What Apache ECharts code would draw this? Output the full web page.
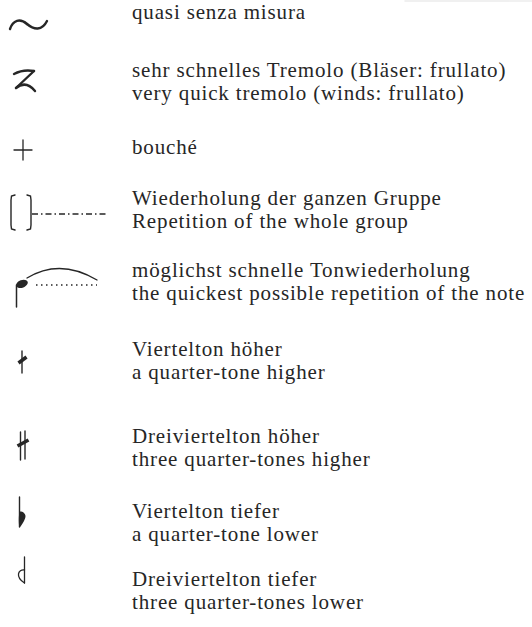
<!DOCTYPE html>
<html>
<head>
<meta charset="utf-8">
<script src="https://cdn.jsdelivr.net/npm/echarts@6/dist/echarts.min.js"></script>
<style>
  html, body { margin: 0; padding: 0; background: #fff; }
  #main { width: 532px; height: 627px; }
  /* the printed face is set wider than Liberation Serif */
  #main svg text { letter-spacing: 0.85px; }
</style>
</head>
<body>
<div id="main"></div>
<script>
// legend rows: symbol + German line + English line
var symbols = ['tilde', 'tremolo', 'plus', 'repeat', 'repetition', 'quarterSharp', 'threeQuarterSharp', 'quarterFlat', 'threeQuarterFlat'];
var germanLines = [
    'quasi senza misura',
    'sehr schnelles Tremolo (Bläser: frullato)',
    'bouché',
    'Wiederholung der ganzen Gruppe',
    'möglichst schnelle Tonwiederholung',
    'Viertelton höher',
    'Dreiviertelton höher',
    'Viertelton tiefer',
    'Dreiviertelton tiefer'
];
var englishLines = [
    '',
    'very quick tremolo (winds: frullato)',
    '',
    'Repetition of the whole group',
    'the quickest possible repetition of the note',
    'a quarter-tone higher',
    'three quarter-tones higher',
    'a quarter-tone lower',
    'three quarter-tones lower'
];

// layout (y of first text line of every row)
var rowY = [12, 70, 147, 198, 270, 349, 436, 511, 579];
var textX = 132;
var lineGap = 23;
var ink = '#262626';
var font = '21px "Liberation Serif", serif';

var stroke = function (w) {
    return { stroke: ink, lineWidth: w, fill: null, lineCap: 'round' };
};
var curve = function (x1, y1, cx1, cy1, cx2, cy2, x2, y2, w) {
    return { type: 'bezierCurve', shape: { x1: x1, y1: y1, cpx1: cx1, cpy1: cy1, cpx2: cx2, cpy2: cy2, x2: x2, y2: y2 }, style: stroke(w) };
};
var quad = function (x1, y1, cx, cy, x2, y2, w) {
    return { type: 'bezierCurve', shape: { x1: x1, y1: y1, cpx1: cx, cpy1: cy, x2: x2, y2: y2 }, style: stroke(w) };
};
var seg = function (x1, y1, x2, y2, w, extra) {
    return { type: 'line', shape: { x1: x1, y1: y1, x2: x2, y2: y2 }, style: Object.assign(stroke(w), extra || {}) };
};

// draws the symbol of one row, y = row's first line
var drawSymbol = function (name, y) {
    switch (name) {
        case 'tilde':
            return [
                curve(10, y + 17, 13, y + 8, 20, y + 6, 27, y + 12, 2.4),
                curve(27, y + 12, 34, y + 18, 42, y + 19, 47, y + 9, 2.4)
            ];
        case 'tremolo':
            return [
                quad(14, y + 4, 23, y - 1, 34, y + 1, 2.4),
                seg(34, y + 1, 16, y + 18, 2.4),
                quad(16, y + 18, 26, y + 10, 35, y + 21, 2.4)
            ];
        case 'plus':
            return [seg(14, y + 3, 32, y + 3, 1.3), seg(23, y - 7, 23, y + 13, 1.3)];
        case 'repeat':
            return [
                { type: 'polyline', shape: { points: [[15, y - 3], [11.5, y - 2], [11, y + 2], [11, y + 27], [11.5, y + 31], [15, y + 32]] }, style: stroke(1.4) },
                { type: 'polyline', shape: { points: [[27, y - 3], [30.5, y - 2], [31, y + 2], [31, y + 27], [30.5, y + 31], [27, y + 32]] }, style: stroke(1.4) },
                seg(32, y + 16, 108, y + 16, 1.3, { lineDash: [6, 3, 1.5, 3], lineCap: 'butt' })
            ];
        case 'repetition':
            return [
                { type: 'ellipse', shape: { cx: 22, cy: y + 14, rx: 6, ry: 3.8 }, rotation: 0.35, originX: 22, originY: y + 14, style: { fill: ink } },
                seg(16.5, y + 15, 16.5, y + 37, 1.5),
                quad(27, y + 8, 60, y - 12, 97, y + 10, 1.4),
                seg(36, y + 15, 97, y + 15, 1.5, { lineDash: [1.5, 3.5], lineCap: 'butt' })
            ];
        case 'quarterSharp':
            return [
                seg(22, y + 2, 22, y + 24, 1.4),
                seg(18.5, y + 14, 26.5, y + 8, 3.5, { lineCap: 'butt' })
            ];
        case 'threeQuarterSharp':
            return [
                seg(20.5, y - 4, 20.5, y + 24, 1.4),
                seg(25, y - 5, 25, y + 23, 1.4),
                seg(17.5, y + 10, 28.5, y + 4, 3.5, { lineCap: 'butt' })
            ];
        case 'quarterFlat':
            return [
                seg(19.5, y - 14, 19.5, y + 16, 1.4),
                { type: 'polygon', shape: { points: [[19.5, y + 1], [23.5, y + 1.5], [25.5, y + 5], [24, y + 10], [19.5, y + 16]], smooth: 0.3 }, style: { fill: ink } }
            ];
        case 'threeQuarterFlat':
            return [
                seg(24.5, y - 22, 24.5, y + 4, 1.3),
                curve(24.5, y - 9, 18, y - 10, 15, y - 2, 24.5, y + 4, 1.3)
            ];
    }
    return [];
};

var elements = [
    // faint page edge of the scan, top right
    seg(405, 1, 532, 1, 1.5, { stroke: '#ececec' })
];
symbols.forEach(function (name, i) {
    var y = rowY[i];
    elements = elements.concat(drawSymbol(name, y));
    elements.push({
        type: 'text', x: textX, y: y,
        style: { text: germanLines[i], font: font, fill: ink, verticalAlign: 'middle' }
    });
    if (englishLines[i]) {
        elements.push({
            type: 'text', x: textX, y: y + lineGap,
            style: { text: englishLines[i], font: font, fill: ink, verticalAlign: 'middle' }
        });
    }
});

var myChart = echarts.init(document.getElementById('main'), null, { renderer: 'svg' });
var option = {
    backgroundColor: '#fff',
    animation: false,
    graphic: { elements: elements }
};
myChart.setOption(option);
</script>
</body>
</html>
